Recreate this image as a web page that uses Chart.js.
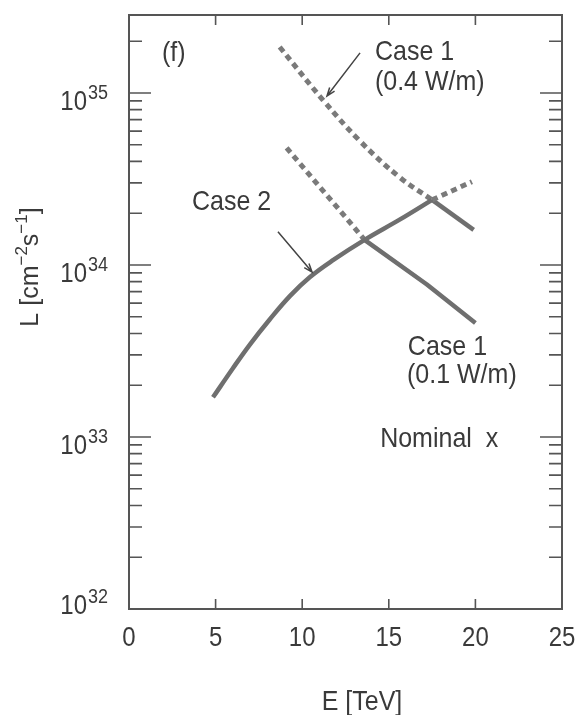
<!DOCTYPE html>
<html>
<head>
<meta charset="utf-8">
<script src="https://cdn.jsdelivr.net/npm/chart.js@4.4.0/dist/chart.umd.min.js"></script>
<style>
  html, body { margin: 0; padding: 0; background: #fff; }
  #wrap { width: 575px; height: 715px; }
</style>
</head>
<body>
<div id="wrap"><canvas id="lumChart" width="575" height="715"></canvas></div>
<script>
// E in TeV, L in cm^-2 s^-1
var eCase2 = [4.85, 6.0, 7.0, 8.1, 9.3, 10.45, 11.8, 13.6, 15.65, 17.5];
var lCase2 = [1.70e33, 2.51e33, 3.47e33, 4.79e33, 6.61e33, 8.51e33, 1.07e34, 1.40e34, 1.84e34, 2.39e34];

var eCase2Beyond = [17.5, 19.8];
var lCase2Beyond = [2.39e34, 3.05e34];

var eCase1High = [8.7, 11.2, 13.3, 15.6, 17.5];
var lCase1High = [1.85e35, 9.1e34, 5.3e34, 3.25e34, 2.39e34];

var eCase1HighSolid = [17.5, 19.9];
var lCase1HighSolid = [2.39e34, 1.6e34];

var eCase1Low = [9.1, 11.0, 12.15, 13.6];
var lCase1Low = [4.8e34, 2.85e34, 2.09e34, 1.40e34];

var eCase1LowSolid = [13.6, 17.2, 20.0];
var lCase1LowSolid = [1.40e34, 7.7e33, 4.6e33];

var xTicks = [0, 5, 10, 15, 20, 25];
var yDecades = [32, 33, 34, 35];
var yMin = 1e32, yMax = 2.84e35;

var TXT = '#3a3a3a';
var FRAME = '#555';
var FONT = '"Liberation Sans", Arial, Helvetica, sans-serif';
var SY = 1.12; // printed type is a little taller than wide

function pts(xs, ys) {
  return xs.map(function (x, i) { return { x: x, y: ys[i] }; });
}

function solid(data, smooth) {
  return {
    data: data, showLine: true, pointRadius: 0,
    borderColor: '#6f6f6f', borderWidth: 4.5,
    tension: smooth ? 0.4 : 0,
    borderCapStyle: 'butt', borderJoinStyle: 'round'
  };
}
function dashed(data, smooth) {
  var d = solid(data, smooth);
  d.borderColor = '#7a7a7a';
  d.borderWidth = 5;
  d.borderDash = [6, 4.5];
  return d;
}

function txt(ctx, s, x, y, size, align) {
  ctx.save();
  ctx.translate(x, y);
  ctx.scale(1, SY);
  ctx.font = size + 'px ' + FONT;
  ctx.fillStyle = TXT;
  ctx.textAlign = align || 'left';
  ctx.textBaseline = 'middle';
  ctx.fillText(s, 0, 0);
  ctx.restore();
}

function arrow(ctx, x1, y1, x2, y2) {
  var a = Math.atan2(y2 - y1, x2 - x1), h = 9;
  ctx.save();
  ctx.strokeStyle = '#444';
  ctx.lineWidth = 1.5;
  ctx.beginPath();
  ctx.moveTo(x1, y1);
  ctx.lineTo(x2, y2);
  ctx.moveTo(x2 - h * Math.cos(a - 0.35), y2 - h * Math.sin(a - 0.35));
  ctx.lineTo(x2, y2);
  ctx.lineTo(x2 - h * Math.cos(a + 0.35), y2 - h * Math.sin(a + 0.35));
  ctx.stroke();
  ctx.restore();
}

// annotations, placed in data coordinates
var notes = [
  { t: '(f)', e: 1.9, l: 1.71e35 },
  { t: 'Case 1', e: 14.2, l: 1.73e35 },
  { t: '(0.4 W/m)', e: 14.2, l: 1.16e35 },
  { t: 'Case 2', e: 3.64, l: 2.32e34 },
  { t: 'Case 1', e: 16.1, l: 3.33e33 },
  { t: '(0.1 W/m)', e: 16.05, l: 2.29e33 },
  { t: 'Nominal  x', e: 14.5, l: 9.73e32 }
];
var arrows = [
  { e1: 13.34, l1: 1.71e35, e2: 11.43, l2: 9.6e34 },
  { e1: 8.6, l1: 1.56e34, e2: 10.57, l2: 9.1e33 }
];

var frameAndLabels = {
  id: 'frameAndLabels',
  afterDraw: function (chart) {
    var ctx = chart.ctx, a = chart.chartArea;
    var xs = chart.scales.x, ys = chart.scales.y;

    ctx.save();
    ctx.strokeStyle = FRAME;
    ctx.lineWidth = 2;
    ctx.strokeRect(a.left, a.top, a.right - a.left, a.bottom - a.top);

    // inward ticks on all four sides
    ctx.lineWidth = 1.6;
    ctx.beginPath();
    xTicks.forEach(function (v) {
      if (v === xs.min || v === xs.max) return;
      var px = xs.getPixelForValue(v);
      ctx.moveTo(px, a.bottom); ctx.lineTo(px, a.bottom - 10);
      ctx.moveTo(px, a.top); ctx.lineTo(px, a.top + 10);
    });
    yDecades.forEach(function (d) {
      for (var k = 1; k <= 9; k++) {
        var v = k * Math.pow(10, d);
        if (v > yMax) break;
        if (v <= yMin) continue;
        var py = ys.getPixelForValue(v);
        var len = k === 1 ? 22 : 13;
        ctx.moveTo(a.left, py); ctx.lineTo(a.left + len, py);
        ctx.moveTo(a.right, py); ctx.lineTo(a.right - len, py);
      }
    });
    ctx.stroke();
    ctx.restore();

    // x tick labels
    xTicks.forEach(function (v) {
      txt(ctx, String(v), xs.getPixelForValue(v), 639, 24, 'center');
    });

    // y tick labels as powers of ten
    yDecades.forEach(function (d) {
      var py = ys.getPixelForValue(Math.pow(10, d));
      if (d === 32) py -= 12;
      txt(ctx, '10', 87, py + 10, 24, 'right');
      txt(ctx, String(d), 88, py, 18, 'left');
    });

    // axis titles
    txt(ctx, 'E [TeV]', 362, 702, 25, 'center');

    ctx.save();
    ctx.translate(31, 267);
    ctx.rotate(-Math.PI / 2);
    ctx.fillStyle = TXT;
    ctx.textBaseline = 'middle';
    var parts = [
      ['L [cm', 25, 0], ['\u22122', 17, -9], ['s', 25, 0], ['\u22121', 17, -9], [']', 25, 0]
    ];
    var w = 0;
    parts.forEach(function (p) { ctx.font = p[1] + 'px ' + FONT; w += ctx.measureText(p[0]).width; });
    var x = -w / 2;
    parts.forEach(function (p) {
      ctx.font = p[1] + 'px ' + FONT;
      ctx.fillText(p[0], x, p[2]);
      x += ctx.measureText(p[0]).width;
    });
    ctx.restore();

    notes.forEach(function (n) {
      txt(ctx, n.t, xs.getPixelForValue(n.e), ys.getPixelForValue(n.l), 25, 'left');
    });
    arrows.forEach(function (r) {
      arrow(ctx, xs.getPixelForValue(r.e1), ys.getPixelForValue(r.l1),
        xs.getPixelForValue(r.e2), ys.getPixelForValue(r.l2));
    });
  }
};

var ctx = document.getElementById('lumChart').getContext('2d');
var lumChart = new Chart(ctx, {
  type: 'scatter',
  data: {
    datasets: [
      solid(pts(eCase2, lCase2), true),
      dashed(pts(eCase2Beyond, lCase2Beyond), false),
      dashed(pts(eCase1High, lCase1High), true),
      solid(pts(eCase1HighSolid, lCase1HighSolid), false),
      dashed(pts(eCase1Low, lCase1Low), false),
      solid(pts(eCase1LowSolid, lCase1LowSolid), false)
    ]
  },
  options: {
    responsive: false,
    animation: false,
    layout: { padding: { left: 129, right: 13, top: 15, bottom: 106 } },
    plugins: { legend: { display: false }, tooltip: { enabled: false } },
    scales: {
      x: {
        type: 'linear', min: 0, max: 25,
        ticks: { display: false },
        grid: { display: false, drawTicks: false },
        border: { display: false },
        afterFit: function (s) { s.height = 0; }
      },
      y: {
        type: 'logarithmic', min: yMin, max: yMax,
        ticks: { display: false },
        grid: { display: false, drawTicks: false },
        border: { display: false },
        afterFit: function (s) { s.width = 0; }
      }
    }
  },
  plugins: [frameAndLabels]
});
</script>
</body>
</html>
